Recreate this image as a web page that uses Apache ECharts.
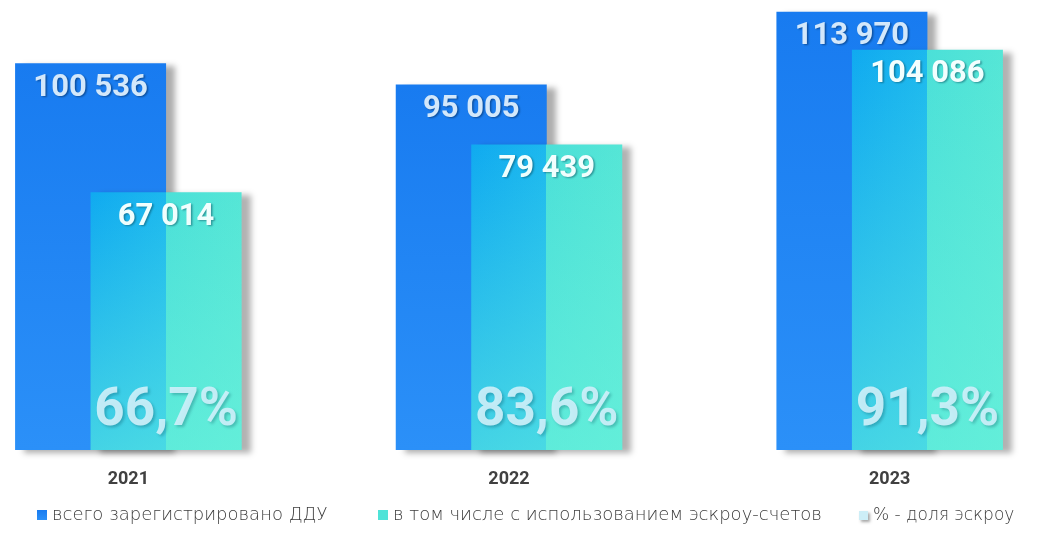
<!DOCTYPE html>
<html>
<head>
<meta charset="utf-8">
<script src="https://cdn.jsdelivr.net/npm/echarts@6/dist/echarts.min.js"></script>
<style>html,body{margin:0;padding:0;background:#fff;}#c{width:1050px;height:547px;}</style>
</head>
<body>
<div id="c"></div>
<script>
const years = ['2021', '2022', '2023'];
const totalDDU = [100536, 95005, 113970];
const escrowDDU = [67014, 79439, 104086];
const escrowShare = ['66,7%', '83,6%', '91,3%'];
const seriesNames = ['всего зарегистрировано ДДУ', 'в том числе с использованием эскроу-счетов', '% - доля эскроу'];

const fmt = v => String(v).replace(/\B(?=(\d{3})+(?!\d))/g, ' ');
const numFont = "'Roboto',sans-serif";
const legendText = { fontFamily: "'DejaVu Sans',sans-serif", fontWeight: 200, fontSize: 18, color: '#3c3c3c' };

const chart = echarts.init(document.getElementById('c'));
chart.setOption({
  animation: false,
  grid: [
    { left: -62, right: -30, top: 0, bottom: 97, outerBoundsMode: 'none' },
    { left: -24.25, right: -67.75, top: 0, bottom: 97, outerBoundsMode: 'none' }
  ],
  xAxis: [
    { type: 'category', gridIndex: 0, data: years, axisLine: { show: false }, axisTick: { show: false },
      axisLabel: { margin: 20, fontFamily: "'Roboto',sans-serif", fontWeight: 'bold', fontSize: 18, color: '#404040' } },
    { type: 'category', gridIndex: 1, data: years, show: false }
  ],
  yAxis: [
    { type: 'value', gridIndex: 0, min: 0, max: 117000, show: false, splitLine: { show: false } },
    { type: 'value', gridIndex: 1, min: 0, max: 117000, show: false, splitLine: { show: false } }
  ],
  legend: [
    { left: 32, top: 501, itemWidth: 10, itemHeight: 10, icon: 'rect', textStyle: legendText, data: [seriesNames[0]], selectedMode: false },
    { left: 373, top: 501, itemWidth: 10, itemHeight: 10, icon: 'rect', textStyle: legendText, selectedMode: false,
      data: [{ name: seriesNames[1], itemStyle: { color: '#4fe3d8' } }] },
    { left: 854, top: 502, itemWidth: 9, itemHeight: 9, icon: 'rect', textStyle: Object.assign({}, legendText, { fontSize: 17 }), selectedMode: false,
      data: [{ name: seriesNames[2], itemStyle: { color: '#cdeef7', shadowColor: 'rgba(0,0,0,0.35)', shadowBlur: 3, shadowOffsetX: 2, shadowOffsetY: 2 } }] }
  ],
  series: [
    {
      name: seriesNames[0], type: 'bar', data: totalDDU, barWidth: 151, barGap: '-50%',
      itemStyle: {
        color: new echarts.graphic.LinearGradient(0, 0, 0, 1, [
          { offset: 0, color: '#187bf0' }, { offset: 1, color: '#2b90f8' }]),
        shadowColor: 'rgba(0,0,0,0.32)', shadowBlur: 6, shadowOffsetX: 9, shadowOffsetY: 3
      },
      label: { show: true, position: 'insideTop', distance: 9, formatter: p => fmt(p.value),
        fontFamily: numFont, fontWeight: 'bold', fontSize: 31, color: '#d3e8fb',
        textShadowColor: 'rgba(0,40,90,0.55)', textShadowBlur: 2, textShadowOffsetX: 1.5, textShadowOffsetY: 1.5 }
    },
    {
      name: seriesNames[1], type: 'bar', data: escrowDDU, barWidth: 151,
      itemStyle: {
        color: new echarts.graphic.LinearGradient(0, 0, 1, 0, [
          { offset: 0, color: '#10aaf0' }, { offset: 0.497, color: '#1cb8ee' },
          { offset: 0.497, color: '#4be0d8' }, { offset: 1, color: '#55e6d6' }]),
        shadowColor: 'rgba(0,0,0,0.3)', shadowBlur: 6, shadowOffsetX: 9, shadowOffsetY: 3
      },
      label: { show: true, position: 'insideTop', distance: 9, formatter: p => fmt(p.value),
        fontFamily: numFont, fontWeight: 'bold', fontSize: 31, color: '#f6ffff',
        textShadowColor: 'rgba(0,60,80,0.5)', textShadowBlur: 2, textShadowOffsetX: 1.5, textShadowOffsetY: 1.5 }
    },
    {
      name: seriesNames[2], type: 'bar', xAxisIndex: 1, yAxisIndex: 1, data: escrowDDU, barWidth: 151, z: 5,
      itemStyle: {
        color: new echarts.graphic.LinearGradient(0, 0, 0, 1, [
          { offset: 0, color: 'rgba(115,245,222,0)' }, { offset: 1, color: 'rgba(110,245,220,0.55)' }])
      },
      label: { show: true, position: 'insideBottom', distance: 12,
        formatter: p => escrowShare[p.dataIndex],
        fontFamily: numFont, fontWeight: 'bold', fontSize: 53, color: 'rgba(205,240,250,0.92)',
        textShadowColor: 'rgba(0,60,80,0.3)', textShadowBlur: 3, textShadowOffsetX: 2, textShadowOffsetY: 2 }
    }
  ]
});
</script>
</body>
</html>
